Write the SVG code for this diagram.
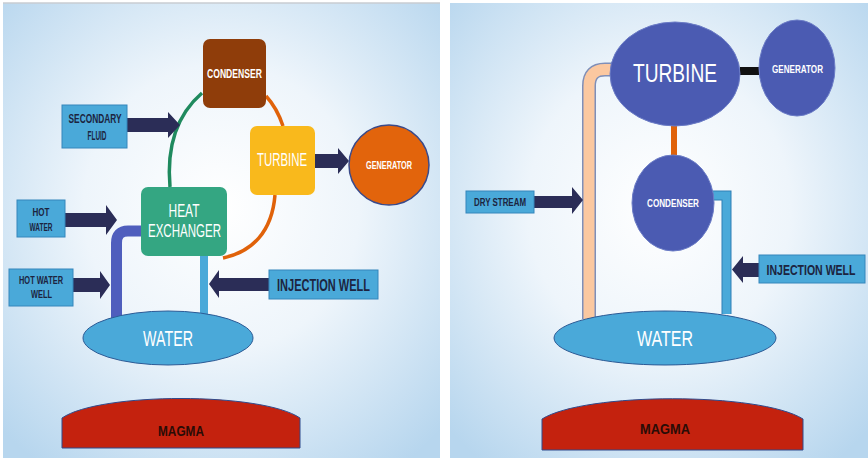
<svg xmlns="http://www.w3.org/2000/svg" width="868" height="458" viewBox="0 0 868 458">
  <defs>
    <radialGradient id="bg" cx="0.5" cy="0.45" r="0.7">
      <stop offset="0" stop-color="#ffffff"/>
      <stop offset="0.45" stop-color="#eef5fb"/>
      <stop offset="1" stop-color="#b7d6ee"/>
    </radialGradient>
    <style>
      .lbl { fill: #4aa9d9; stroke: #3586bb; stroke-width: 1; }
      .arrow { fill: #2b2d57; }
      .dark { font-family: "Liberation Sans Narrow", "Liberation Sans", Arial, sans-serif; font-weight: bold; fill: #1c2440; text-anchor: middle; }
      .white { font-family: "Liberation Sans Narrow", "Liberation Sans", Arial, sans-serif; fill: #ffffff; text-anchor: middle; }
      .wb { font-weight: bold; }
      .water { fill: #4aa9d9; stroke: #2c5a95; stroke-width: 1; }
      .magma { fill: #c4220e; stroke: #2f4a8c; stroke-width: 1; }
      .blue { fill: #4b5bb2; stroke: #6b7cc6; stroke-width: 1; }
      .mtxt { fill: #2a0c06; }
    </style>
  </defs>

  <!-- panels -->
  <rect x="0" y="0" width="868" height="458" fill="#ffffff"/>
  <rect x="3" y="3" width="437" height="455" fill="url(#bg)"/>
  <line x1="3" y1="3" x2="440" y2="3" stroke="#c8ccd2" stroke-width="1.5"/>
  <rect x="450" y="3" width="418" height="455" fill="url(#bg)"/>

  <!-- ===== Binary cycle plant ===== -->
  <g id="connectors-left" fill="none">
    <path d="M202,93 C180,112 166,142 170,187" stroke="#1f8a5e" stroke-width="3.5"/>
    <path d="M266,96 Q277,108 283,126" stroke="#e0620a" stroke-width="3.5"/>
    <path d="M275,195 C272,232 252,252 223,258" stroke="#e0620a" stroke-width="3.5"/>
    <path d="M141,231 H128 Q116.5,231 116.5,243 V318" stroke="#4f5ebd" stroke-width="11"/>
    <path d="M204,255 V316" stroke="#4aa9d9" stroke-width="8"/>
    <polygon class="arrow" points="127,118 168,118 168,112 180,125 168,138 168,132 127,132"/>
    <polygon class="arrow" points="315,154 338,154 338,148 349,161 338,174 338,168 315,168"/>
    <polygon class="arrow" points="65,213 106,213 106,205 117,220 106,235 106,227 65,227"/>
    <polygon class="arrow" points="73,278 100,278 100,271 110,285 100,299 100,292 73,292"/>
    <polygon class="arrow" points="269,278 219,278 219,270 209,284 219,298 219,291 269,291"/>
  </g>

  <g id="condenser-left">
    <rect x="203" y="39" width="63" height="69" rx="7" fill="#8f3d0a"/>
    <text class="white wb" x="234.5" y="77.5" font-size="12" textLength="55" lengthAdjust="spacingAndGlyphs">CONDENSER</text>
  </g>
  <g id="secondary-fluid">
    <rect class="lbl" x="62" y="105" width="65" height="43"/>
    <text class="dark" x="95" y="123" font-size="13" textLength="53" lengthAdjust="spacingAndGlyphs">SECONDARY</text>
    <text class="dark" x="97" y="140" font-size="13" textLength="19" lengthAdjust="spacingAndGlyphs">FLUID</text>
  </g>
  <g id="turbine-left">
    <rect x="250" y="126" width="65" height="69" rx="7" fill="#f9b91c"/>
    <text class="white" x="282" y="165.5" font-size="18" textLength="50" lengthAdjust="spacingAndGlyphs">TURBINE</text>
  </g>
  <g id="generator-left">
    <circle cx="389" cy="165" r="40" fill="#e2640c" stroke="#3a4a8a" stroke-width="1.5"/>
    <text class="white wb" x="389" y="169" font-size="11" textLength="46" lengthAdjust="spacingAndGlyphs">GENERATOR</text>
  </g>
  <g id="heat-exchanger">
    <rect x="141" y="187" width="86" height="69" rx="7" fill="#34a682"/>
    <text class="white" x="184" y="216.5" font-size="18" textLength="31" lengthAdjust="spacingAndGlyphs">HEAT</text>
    <text class="white" x="184.5" y="236.5" font-size="18" textLength="73" lengthAdjust="spacingAndGlyphs">EXCHANGER</text>
  </g>
  <g id="hot-water">
    <rect class="lbl" x="17" y="200" width="48" height="37"/>
    <text class="dark" x="41" y="216" font-size="11" textLength="17" lengthAdjust="spacingAndGlyphs">HOT</text>
    <text class="dark" x="41" y="231" font-size="11" textLength="23" lengthAdjust="spacingAndGlyphs">WATER</text>
  </g>
  <g id="hot-water-well">
    <rect class="lbl" x="9" y="269" width="64" height="37"/>
    <text class="dark" x="41" y="284" font-size="11" textLength="44" lengthAdjust="spacingAndGlyphs">HOT WATER</text>
    <text class="dark" x="41.5" y="298" font-size="11" textLength="21" lengthAdjust="spacingAndGlyphs">WELL</text>
  </g>
  <g id="injection-well-left">
    <rect class="lbl" x="269" y="270" width="109" height="29"/>
    <text class="dark" x="323.5" y="291" font-size="17" textLength="93" lengthAdjust="spacingAndGlyphs">INJECTION WELL</text>
  </g>
  <g id="water-left">
    <ellipse class="water" cx="168" cy="338" rx="85" ry="27"/>
    <text class="white" x="168" y="346" font-size="22" textLength="50" lengthAdjust="spacingAndGlyphs">WATER</text>
  </g>
  <g id="magma-left">
    <path class="magma" d="M62,448 V418 C100,392 262,392 300,418 V448 Z"/>
    <text class="dark mtxt" x="181" y="435.5" font-size="15" textLength="46" lengthAdjust="spacingAndGlyphs">MAGMA</text>
  </g>

  <!-- ===== Dry steam plant ===== -->
  <g id="connectors-right" fill="none">
    <path d="M612,69.5 H605 Q589,69.5 589,86 V319" stroke="#7f8fb8" stroke-width="14"/>
    <path d="M612,69.5 H605 Q589,69.5 589,86 V319" stroke="#fbc8a0" stroke-width="11"/>
    <path d="M712,195.5 H726.5 V314" stroke="#2f7fb5" stroke-width="10"/>
    <path d="M712,195.5 H726.5 V314" stroke="#4aa9d9" stroke-width="8"/>
    <rect x="740" y="67" width="19" height="8" fill="#111111"/>
    <rect x="671" y="124" width="6" height="33" fill="#e0620a"/>
    <polygon class="arrow" points="534,196 572,196 572,187 583,200 572,214 572,208 534,208"/>
    <polygon class="arrow" points="759,263 743,263 743,256 732,269.5 743,283 743,277 759,277"/>
  </g>

  <g id="turbine-right">
    <ellipse class="blue" cx="675" cy="74" rx="65" ry="52"/>
    <text class="white" x="675" y="82" font-size="25" textLength="84" lengthAdjust="spacingAndGlyphs">TURBINE</text>
  </g>
  <g id="generator-right">
    <ellipse class="blue" cx="797" cy="68" rx="38" ry="48"/>
    <text class="white wb" x="797.5" y="73" font-size="11" textLength="51" lengthAdjust="spacingAndGlyphs">GENERATOR</text>
  </g>
  <g id="condenser-right">
    <ellipse class="blue" cx="673" cy="203" rx="41" ry="48"/>
    <text class="white wb" x="673" y="207" font-size="11" textLength="52" lengthAdjust="spacingAndGlyphs">CONDENSER</text>
  </g>
  <g id="dry-stream">
    <rect class="lbl" x="466" y="191" width="68" height="22"/>
    <text class="dark" x="500" y="205.5" font-size="10" textLength="52" lengthAdjust="spacingAndGlyphs">DRY STREAM</text>
  </g>
  <g id="injection-well-right">
    <rect class="lbl" x="759" y="255" width="106" height="28"/>
    <text class="dark" x="811" y="274.5" font-size="15" textLength="89" lengthAdjust="spacingAndGlyphs">INJECTION WELL</text>
  </g>
  <g id="water-right">
    <ellipse class="water" cx="665" cy="338" rx="111" ry="27"/>
    <text class="white" x="665" y="346" font-size="22" textLength="56" lengthAdjust="spacingAndGlyphs">WATER</text>
  </g>
  <g id="magma-right">
    <path class="magma" d="M542,450 V419 C585,392 760,392 803,419 V450 Z"/>
    <text class="dark mtxt" x="665" y="433.5" font-size="15" textLength="50" lengthAdjust="spacingAndGlyphs">MAGMA</text>
  </g>
</svg>
